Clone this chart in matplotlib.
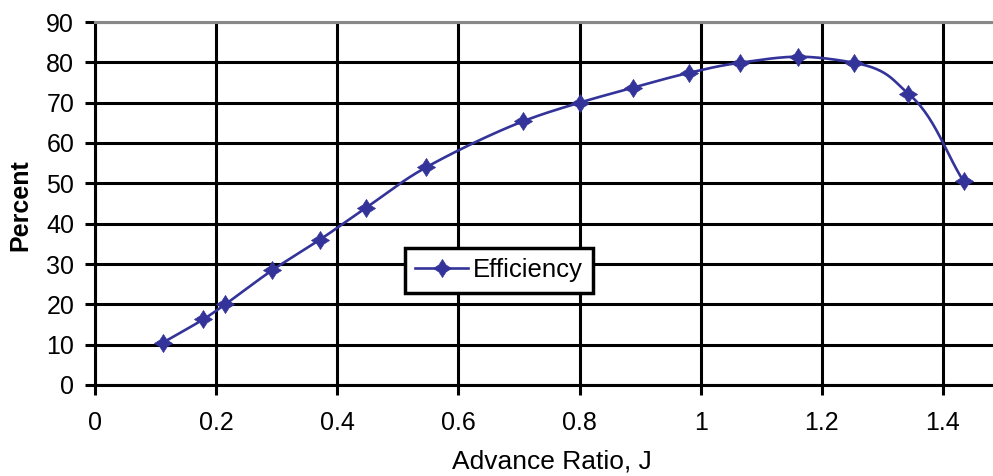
import numpy as np
import matplotlib
matplotlib.use("Agg")
import matplotlib.pyplot as plt
from matplotlib.path import Path

# Data
advance_ratio = [0.112, 0.179, 0.215, 0.293, 0.371, 0.448, 0.547, 0.707,
                 0.800, 0.888, 0.981, 1.065, 1.161, 1.253, 1.343, 1.434]
efficiency = [10.5, 16.3, 20.0, 28.5, 36.0, 44.0, 54.0, 65.4,
              70.0, 73.7, 77.4, 79.9, 81.4, 79.9, 72.2, 50.5]
x_ticks = [0, 0.2, 0.4, 0.6, 0.8, 1, 1.2, 1.4]
x_tick_labels = ["0", "0.2", "0.4", "0.6", "0.8", "1", "1.2", "1.4"]
y_ticks = [0, 10, 20, 30, 40, 50, 60, 70, 80, 90]

COLOR = "#333399"
plt.rcParams['font.family'] = ['Liberation Sans', 'DejaVu Sans']


def catmull_rom(x, y, n=30, alpha=0.5):
    """Centripetal Catmull-Rom spline through the points (Excel-like smoothing)."""
    P = np.column_stack([x, y]).astype(float)
    P = np.vstack([2 * P[0] - P[1], P, 2 * P[-1] - P[-2]])
    out = []
    for i in range(1, len(P) - 2):
        p0, p1, p2, p3 = P[i - 1], P[i], P[i + 1], P[i + 2]
        t0 = 0.0
        t1 = t0 + np.linalg.norm(p1 - p0) ** alpha
        t2 = t1 + np.linalg.norm(p2 - p1) ** alpha
        t3 = t2 + np.linalg.norm(p3 - p2) ** alpha
        t = np.linspace(t1, t2, n)[:, None]
        A1 = (t1 - t) / (t1 - t0) * p0 + (t - t0) / (t1 - t0) * p1
        A2 = (t2 - t) / (t2 - t1) * p1 + (t - t1) / (t2 - t1) * p2
        A3 = (t3 - t) / (t3 - t2) * p2 + (t - t2) / (t3 - t2) * p3
        B1 = (t2 - t) / (t2 - t0) * A1 + (t - t0) / (t2 - t0) * A2
        B2 = (t3 - t) / (t3 - t1) * A2 + (t - t1) / (t3 - t1) * A3
        C = (t2 - t) / (t2 - t1) * B1 + (t - t1) / (t2 - t1) * B2
        out.append(C if i == 1 else C[1:])
    C = np.vstack(out)
    return C[:, 0], C[:, 1]


# four-pointed star marker (fat, blob-like)
r_in = 0.55
verts = []
for k in range(4):
    a = np.pi / 2 * k
    verts.append((np.cos(a), np.sin(a)))
    b = a + np.pi / 4
    verts.append((r_in * np.cos(b), r_in * np.sin(b)))
verts.append(verts[0])
star = Path(verts, closed=True)

fig = plt.figure(figsize=(9.93, 4.76), dpi=100)
W, H = 993, 476
x0_px, x16_px = 95, 95 + 1.6 * 605.7
ax = fig.add_axes([x0_px / W, (H - 385) / H, (x16_px - x0_px) / W, (385 - 22) / H])
ax.set_xlim(0, 1.6)
ax.set_ylim(0, 90)

sx, sy = catmull_rom(advance_ratio, efficiency)
ax.plot(sx, sy, color=COLOR, lw=1.9, zorder=3, solid_capstyle='round')
ax.plot(advance_ratio, efficiency, ls='none', marker=star, ms=13,
        color=COLOR, mec=COLOR, mew=0.5, zorder=4)
handle, = ax.plot([], [], color=COLOR, lw=1.9, marker=star, ms=13, mec=COLOR,
                  mew=0.5)

ax.set_xticks(x_ticks)
ax.set_xticklabels(x_tick_labels)
ax.set_yticks(y_ticks)
ax.grid(True, color='black', lw=2.2)
ax.set_axisbelow(True)
ax.spines['right'].set_visible(False)
ax.spines['top'].set_color('#888888')
ax.spines['top'].set_linewidth(2.2)
ax.spines['left'].set_linewidth(2.2)
ax.spines['bottom'].set_linewidth(2.2)
ax.tick_params(axis='both', direction='out', length=7, width=2.2,
               labelsize=18, colors='black')
ax.tick_params(axis='y', pad=8)
ax.tick_params(axis='x', pad=12)

fig.text(20 / W, 1 - 205 / H, "Percent", rotation=90, ha='center', va='center',
         fontsize=18, fontweight='bold')
fig.text(552 / W, 1 - 461 / H, "Advance Ratio, J", ha='center', va='center',
         fontsize=19)

leg = ax.legend([handle], ["Efficiency"], loc='upper left',
                bbox_to_anchor=(405 / W, 1 - 248 / H),
                bbox_transform=fig.transFigure, fontsize=18.5, frameon=True,
                fancybox=False, shadow=False, framealpha=1,
                handlelength=2.05, handletextpad=0.2, borderpad=0.4,
                borderaxespad=0)
leg.get_frame().set_edgecolor('black')
leg.get_frame().set_linewidth(2.5)

fig.savefig("out.png", dpi=100)
